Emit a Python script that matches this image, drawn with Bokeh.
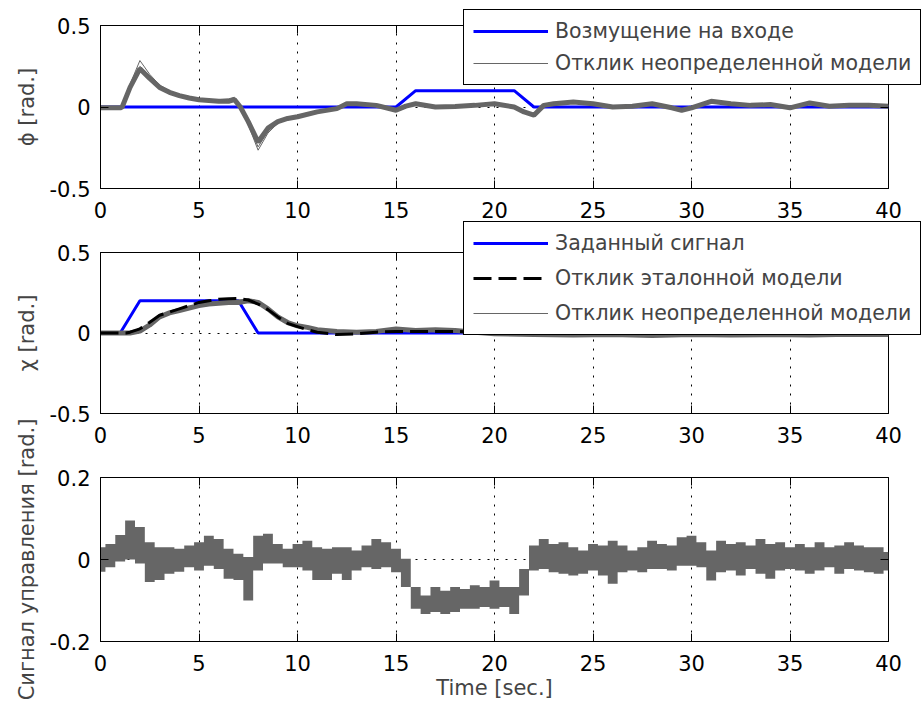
from bokeh.plotting import figure
from bokeh.models import (Range1d, FixedTicker, LinearAxis, Legend, LegendItem,
                          CustomJSTickFormatter)
from bokeh.layouts import column
from bokeh.embed import file_html
from bokeh.resources import INLINE

FONT = "DejaVu Sans"
FS = "21px"
LFS = "20.5px"
BLUE = "#0000ff"
GRAY = "#666666"

x_ticks = [0, 5, 10, 15, 20, 25, 30, 35, 40]

# ---------------- panel 1: phi ----------------
dist_t = [0, 15, 16, 21, 22, 40]
dist_v = [0, 0, 0.1, 0.1, 0, 0]

t1 = [0, 1, 1.1, 1.5, 2.0, 2.5, 3, 3.5, 4, 4.5, 5, 5.5, 6, 6.5, 6.8, 7.1, 7.5, 8,
      8.5, 9, 9.5, 10, 11, 12, 12.5, 13, 14, 15, 15.5, 16, 17, 18, 19, 20, 21,
      21.5, 22, 22.5, 23, 24, 25, 26, 27, 28, 29, 29.5, 30, 31, 32, 33, 34, 35,
      36, 37, 38, 39, 40]
phi_main = [-0.005, -0.005, 0.0, 0.12, 0.235, 0.175, 0.12, 0.09, 0.07, 0.055,
            0.045, 0.04, 0.035, 0.035, 0.045, 0.0, -0.09, -0.215, -0.13, -0.09,
            -0.07, -0.06, -0.03, -0.01, 0.02, 0.02, 0.01, -0.02, 0.005, 0.02,
            0.0, 0.003, 0.01, 0.02, 0.0, -0.03, -0.05, 0.01, 0.02, 0.03, 0.02,
            0.0, 0.005, 0.02, -0.005, -0.02, -0.005, 0.035, 0.02, 0.01, 0.015,
            -0.005, 0.025, 0.005, 0.01, 0.01, 0.005]
phi_var1 = [0.0, 0.0, 0.005, 0.14, 0.285, 0.2, 0.135, 0.1, 0.075, 0.06,
            0.05, 0.045, 0.045, 0.05, 0.06, 0.01, -0.11, -0.265, -0.16, -0.1,
            -0.075, -0.06, -0.03, -0.005, 0.025, 0.025, 0.015, -0.015, 0.01, 0.025,
            0.005, 0.005, 0.015, 0.025, 0.005, -0.025, -0.045, 0.015, 0.025, 0.035, 0.025,
            0.005, 0.01, 0.025, 0.0, -0.015, 0.0, 0.04, 0.025, 0.015, 0.02,
            0.0, 0.03, 0.01, 0.015, 0.015, 0.01]
phi_var2 = [-0.005, -0.005, 0.0, 0.11, 0.25, 0.19, 0.13, 0.095, 0.072, 0.058,
            0.048, 0.042, 0.038, 0.04, 0.05, 0.005, -0.1, -0.245, -0.15, -0.095,
            -0.072, -0.058, -0.028, -0.008, 0.022, 0.022, 0.012, -0.018, 0.007, 0.022,
            0.002, 0.004, 0.012, 0.022, 0.002, -0.028, -0.048, 0.012, 0.022, 0.032, 0.022,
            0.002, 0.007, 0.022, -0.003, -0.018, -0.003, 0.037, 0.022, 0.012, 0.017,
            -0.003, 0.027, 0.007, 0.012, 0.012, 0.007]

# ---------------- panel 2: chi ----------------
cmd_t = [0, 1, 2, 7, 8, 40]
cmd_v = [0, 0, 0.2, 0.2, 0, 0]

t2 = [0, 1, 1.3, 1.5, 2, 2.5, 3, 3.5, 4, 4.5, 5, 5.5, 6, 6.5, 7, 7.5, 8, 8.5, 9,
      9.5, 10, 10.5, 11, 12, 13, 14, 15, 16, 17, 18, 19, 20, 22, 24, 26, 28, 30,
      32, 34, 36, 38, 40]
chi_ref = [0, 0, 0, 0.005, 0.026, 0.067, 0.11, 0.13, 0.15, 0.17, 0.19, 0.2, 0.21,
           0.213, 0.215, 0.205, 0.18, 0.145, 0.1, 0.06, 0.04, 0.02, 0.005, -0.01,
           -0.005, 0.005, 0.01, 0.01, 0.01, 0.01, 0.005, 0.005, 0.003, 0.002,
           0.001, 0.0, 0.0, 0.0, 0.0, 0.0, 0.0, 0.0]
chi_main = [0, 0, 0, 0.0, 0.012, 0.05, 0.1, 0.125, 0.14, 0.155, 0.17, 0.18, 0.185,
            0.19, 0.19, 0.2, 0.19, 0.15, 0.1, 0.065, 0.045, 0.035, 0.02, 0.01,
            0.005, 0.01, 0.025, 0.015, 0.02, 0.015, 0.005, -0.005, -0.01, -0.012,
            -0.01, -0.015, -0.01, -0.012, -0.01, -0.012, -0.008, -0.01]
chi_var = [0, 0, 0, -0.005, 0.005, 0.04, 0.09, 0.12, 0.145, 0.16, 0.18, 0.19, 0.195,
           0.2, 0.205, 0.21, 0.2, 0.16, 0.11, 0.07, 0.05, 0.035, 0.02, 0.008,
           0.003, 0.008, 0.02, 0.012, 0.018, 0.012, 0.003, -0.008, -0.012, -0.015,
           -0.012, -0.018, -0.012, -0.015, -0.012, -0.015, -0.01, -0.012]

# ---------------- panel 3: control signal (band envelope) ----------------
t3 = [i * 0.5 for i in range(81)]
u_hi = [0.03, 0.038, 0.06, 0.095, 0.079, 0.042, 0.03, 0.03, 0.026, 0.034,
        0.042, 0.058, 0.05, 0.026, 0.014, 0.006, 0.058, 0.063, 0.038, 0.026,
        0.038, 0.046, 0.03, 0.026, 0.03, 0.03, 0.022, 0.034, 0.05, 0.042,
        0.026, 0.002, -0.067, -0.088, -0.067, -0.076, -0.067, -0.072, -0.063, -0.067,
        -0.051, -0.067, -0.067, -0.023, 0.034, 0.05, 0.038, 0.042, 0.03, 0.022,
        0.038, 0.034, 0.046, 0.034, 0.022, 0.03, 0.046, 0.038, 0.034, 0.054,
        0.058, 0.042, 0.022, 0.046, 0.038, 0.042, 0.034, 0.05, 0.038, 0.042,
        0.03, 0.038, 0.03, 0.042, 0.03, 0.034, 0.042, 0.034, 0.03, 0.03, 0.018]
u_lo = [-0.03, -0.019, -0.005, 0.0, -0.01, -0.055, -0.05, -0.035, -0.03, -0.019,
        -0.027, -0.015, -0.023, -0.047, -0.05, -0.1, -0.027, -0.01, -0.01, -0.019,
        -0.019, -0.027, -0.05, -0.05, -0.035, -0.05, -0.027, -0.019, -0.023, -0.019,
        -0.031, -0.067, -0.12, -0.133, -0.128, -0.133, -0.128, -0.12, -0.12, -0.116,
        -0.12, -0.116, -0.133, -0.088, -0.027, -0.023, -0.031, -0.035, -0.039, -0.035,
        -0.027, -0.039, -0.059, -0.031, -0.027, -0.031, -0.023, -0.023, -0.027, -0.015,
        -0.015, -0.019, -0.051, -0.031, -0.027, -0.039, -0.023, -0.035, -0.047, -0.027,
        -0.023, -0.027, -0.035, -0.027, -0.019, -0.035, -0.023, -0.027, -0.031, -0.035, -0.027]

legend1_labels = ["Возмущение на входе", "Отклик неопределенной модели"]
legend2_labels = ["Заданный сигнал", "Отклик эталонной модели", "Отклик неопределенной модели"]


def make_fig(height, top, bottom, yr, yticks, ylabel, xlabel=None):
    p = figure(width=922, height=height, output_backend="svg", toolbar_location=None,
               x_range=Range1d(0, 40), y_range=Range1d(*yr),
               min_border_left=100, min_border_right=34,
               min_border_top=top, min_border_bottom=bottom)
    p.background_fill_color = "white"
    p.border_fill_color = "white"
    p.outline_line_color = "black"
    p.outline_line_alpha = 1
    p.outline_line_width = 1
    fmt = CustomJSTickFormatter(code="return String(tick);")
    for ax, tk in ((p.xaxis[0], x_ticks), (p.yaxis[0], yticks)):
        ax.ticker = FixedTicker(ticks=tk)
        ax.formatter = fmt
        ax.major_tick_in = 8
        ax.major_tick_out = 0
        ax.minor_tick_line_color = None
        ax.axis_line_color = "black"
        ax.major_tick_line_color = "black"
        ax.major_label_text_font = FONT
        ax.major_label_text_font_size = FS
        ax.major_label_text_color = "black"
    p.xaxis[0].major_label_standoff = 13
    p.yaxis[0].major_label_standoff = 10
    p.yaxis[0].axis_label = ylabel
    p.yaxis[0].axis_label_text_font = FONT
    p.yaxis[0].axis_label_text_font_size = FS
    p.yaxis[0].axis_label_text_font_style = "normal"
    p.yaxis[0].axis_label_standoff = 8
    if xlabel:
        p.xaxis[0].axis_label = xlabel
        p.xaxis[0].axis_label_text_font = FONT
        p.xaxis[0].axis_label_text_font_size = FS
        p.xaxis[0].axis_label_text_font_style = "normal"
        p.xaxis[0].axis_label_standoff = 2
    blank = CustomJSTickFormatter(code="return '';")
    for place, tk in (("above", x_ticks), ("right", yticks)):
        ax = LinearAxis(ticker=FixedTicker(ticks=tk), formatter=blank,
                        major_tick_in=8, major_tick_out=0, major_label_standoff=0,
                        minor_tick_line_color=None, axis_line_color=None,
                        major_tick_line_color="black")
        p.add_layout(ax, place)
    p.xgrid.ticker = FixedTicker(ticks=x_ticks)
    p.ygrid.ticker = FixedTicker(ticks=yticks)
    for g in (p.xgrid[0], p.ygrid[0]):
        g.grid_line_color = "black"
        g.grid_line_dash = "2 7"
        g.grid_line_width = 1
        g.grid_line_alpha = 1
    return p


def make_legend_fig(labels, styles, height, spacing, margin_top):
    """Stand-alone overlay figure holding only a boxed legend, so that the
    legend may reach beyond the axes box of the panel it belongs to."""
    q = figure(width=460, height=height, output_backend="svg", toolbar_location=None,
               x_axis_type=None, y_axis_type=None, min_border=0,
               min_border_left=0, min_border_right=0, min_border_top=0,
               min_border_bottom=0, x_range=Range1d(0, 1), y_range=Range1d(0, 1),
               margin=(margin_top, 0, 0, 462))
    q.outline_line_color = None
    q.background_fill_alpha = 0
    q.border_fill_alpha = 0
    q.grid.visible = False
    items = []
    for label, style in zip(labels, styles):
        r = q.line([float("nan")], [float("nan")], **style)
        items.append(LegendItem(label=label, renderers=[r]))
    leg = Legend(items=items, location=(1, 1), orientation="vertical",
                 border_line_color="black", border_line_width=1, border_line_alpha=1,
                 background_fill_color="white", background_fill_alpha=1,
                 label_text_font=FONT, label_text_font_size=LFS,
                 glyph_width=75, glyph_height=24, label_height=24,
                 label_standoff=7, spacing=spacing, padding=9, margin=0)
    q.add_layout(leg)
    return q


blue_style = dict(line_color=BLUE, line_width=3)
gray_style = dict(line_color=GRAY, line_width=1)
black_style = dict(line_color="black", line_width=3, line_dash="18 7")

# panel 1 (0 .. 228)
p1 = make_fig(228, 25, 40, (-0.5, 0.5), [-0.5, 0, 0.5], "ϕ [rad.]")
p1.line(dist_t, dist_v, **blue_style)
p1.line(t1, phi_main, line_color=GRAY, line_width=5)
p1.line(t1, phi_var1, **gray_style)
p1.line(t1, phi_var2, **gray_style)

# panel 2 (228 .. 453)
p2 = make_fig(225, 24, 40, (-0.5, 0.5), [-0.5, 0, 0.5], "χ [rad.]")
p2.line(cmd_t, cmd_v, **blue_style)
p2.line(t2, chi_main, line_color=GRAY, line_width=5)
p2.line(t2, chi_var, **gray_style)
p2.line(t2, chi_ref, **black_style)

# panel 3 (407 .. 709), transparent top border overlapping panel 2's tick labels
p3 = make_fig(302, 70, 68, (-0.2, 0.2), [-0.2, 0, 0.2], "Сигнал управления [rad.]",
              xlabel="Time [sec.]")
p3.border_fill_alpha = 0
p3.margin = (-46, 0, 0, 0)
p3.varea_step(x=t3, y1=u_lo, y2=u_hi, step_mode="center", fill_color=GRAY)

layout = column(p1, p2, p3, spacing=0)

# legend overlays as separate roots (fig 1 spans y 4..86, fig 2 spans y 214..336)
leg1 = make_legend_fig(legend1_labels, [blue_style, gray_style], 82, 8, -705)
leg2 = make_legend_fig(legend2_labels, [blue_style, black_style, gray_style], 122, 11, 128)

open("out.html", "w").write(file_html([layout, leg1, leg2], INLINE))
